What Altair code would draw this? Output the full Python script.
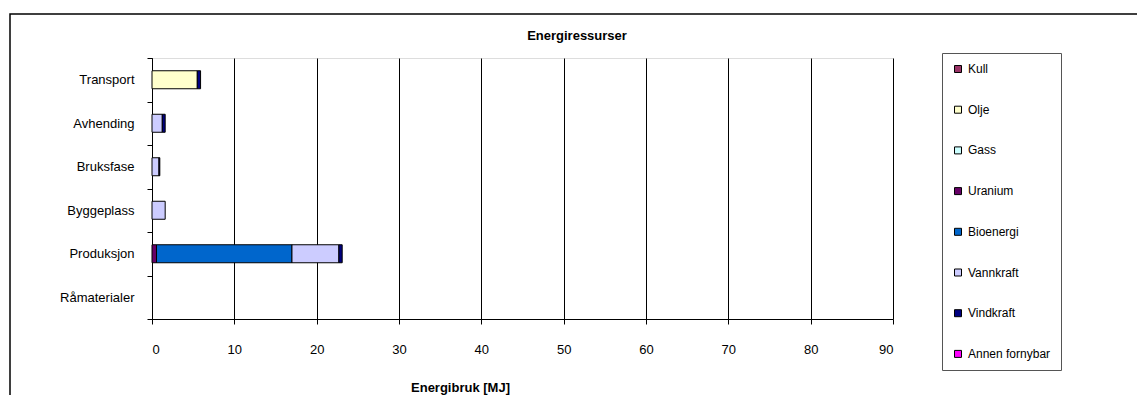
import altair as alt
import pandas as pd

# ---- data ----
chart_title = ["Energiressurser"]
stages = ["Transport", "Avhending", "Bruksfase", "Byggeplass", "Produksjon", "Råmaterialer"]
sources = ["Kull", "Olje", "Gass", "Uranium", "Bioenergi", "Vannkraft", "Vindkraft", "Annen fornybar"]
colors = ["#993366", "#FFFFCC", "#CCFFFF", "#660066", "#0066CC", "#CCCCFF", "#000080", "#FF00FF"]

# values (MJ) per source, in the order of `stages`
kull      = [0.0, 0.0, 0.0, 0.0, 0.0, 0.0]
olje      = [5.5, 0.0, 0.0, 0.0, 0.0, 0.0]
gass      = [0.0, 0.0, 0.0, 0.0, 0.0, 0.0]
uranium   = [0.0, 0.0, 0.0, 0.0, 0.55, 0.0]
bioenergi = [0.0, 0.0, 0.0, 0.0, 16.45, 0.0]
vannkraft = [0.0, 1.25, 0.85, 1.6, 5.7, 0.0]
vindkraft = [0.4, 0.35, 0.1, 0.0, 0.4, 0.0]
annen     = [0.0, 0.0, 0.0, 0.0, 0.0, 0.0]

series = [kull, olje, gass, uranium, bioenergi, vannkraft, vindkraft, annen]
x_ticks = [0, 10, 20, 30, 40, 50, 60, 70, 80, 90]

rows = []
for si, (src, vals) in enumerate(zip(sources, series)):
    for st, v in zip(stages, vals):
        if v > 0:
            rows.append({"Fase": st, "Kilde": src, "MJ": v, "ord": si})
df = pd.DataFrame(rows)

FONT = "Liberation Sans"

bars = alt.Chart(df).mark_bar(size=18, stroke="black", strokeWidth=1).encode(
    y=alt.Y("Fase:N", sort=stages, scale=alt.Scale(domain=stages, paddingInner=0, paddingOuter=0),
            axis=alt.Axis(title=None, tickBand="extent", tickSize=5, labelPadding=13,
                          labelFontSize=13, labelFont=FONT, labelColor="black",
                          domainColor="black", tickColor="black", grid=False)),
    x=alt.X("MJ:Q", stack="zero", scale=alt.Scale(domain=[0, 90], nice=False),
            axis=alt.Axis(values=x_ticks, title="Energibruk [MJ]", titleFontSize=13,
                          titleFont=FONT, titleFontWeight="bold", titleColor="black",
                          titleX=308, titleY=68, titleAlign="center", titleBaseline="middle",
                          labelFontSize=13, labelFont=FONT, labelColor="black", labelPadding=19,
                          tickSize=5, tickColor="black", domainColor="black",
                          grid=True, gridColor="black", gridWidth=1)),
    color=alt.Color("Kilde:N", scale=alt.Scale(domain=sources, range=colors),
                    legend=alt.Legend(title=None, orient="none", legendX=790, legendY=-5,
                                      symbolType="square", symbolSize=49,
                                      symbolStrokeColor="black", symbolStrokeWidth=1,
                                      labelFontSize=12, labelFont=FONT, labelColor="black",
                                      rowPadding=28.7, padding=10, strokeColor="#555555",
                                      values=sources)),
    order=alt.Order("ord:Q"),
)

frame = alt.Chart(alt.Data(values=[{"a": 1}])).mark_rect(
    fill="transparent", stroke="black", strokeWidth=1.5
).encode(x=alt.value(-142), x2=alt.value(1010), y=alt.value(-44), y2=alt.value(400))

title = alt.Chart(pd.DataFrame({"t": chart_title})).mark_text(
    font=FONT, fontSize=13, fontWeight="bold", color="black", align="center", baseline="middle"
).encode(text="t:N", x=alt.value(425), y=alt.value(-22))

chart = alt.layer(frame, bars, title).properties(
    width=741, height=261,
    autosize=alt.AutoSizeParams(type="none"),
    padding={"left": 144, "top": 50, "right": 244, "bottom": 76},
).configure_view(stroke="#808080", strokeWidth=1).configure(background="white")

chart.save("out.html", embed_options={"renderer": "svg", "actions": False})
